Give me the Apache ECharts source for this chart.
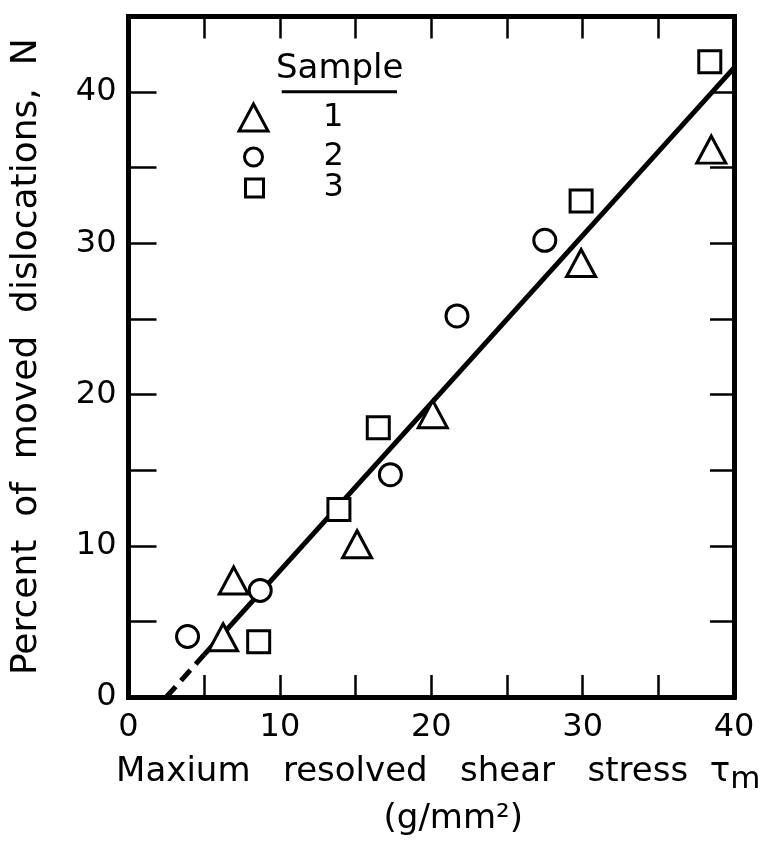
<!DOCTYPE html>
<html><head><meta charset="utf-8">
<script src="https://cdn.jsdelivr.net/npm/echarts@6/dist/echarts.min.js"></script>
<style>html,body{margin:0;padding:0;background:#fff}#c{width:769px;height:842px}</style>
</head><body><div id="c"></div>
<script>
// Sample 1 (triangles)
const sample1X = [6.25, 6.95, 15.1, 20.1, 29.9, 38.5];
const sample1Y = [3.95, 7.7, 10.1, 18.7, 28.7, 36.2];
// Sample 2 (circles)
const sample2X = [3.9, 8.7, 17.3, 21.7, 27.5];
const sample2Y = [4.0, 7.05, 14.7, 25.2, 30.2];
// Sample 3 (squares)
const sample3X = [8.6, 13.9, 16.5, 29.9, 38.4];
const sample3Y = [3.65, 12.4, 17.8, 32.8, 42.0];
// Fitted line: dashed from point 0 to 1, solid from 1 to 2
const fitX = [2.5, 5.0, 40];
const fitY = [0, 2.8, 41.6];
// Axis tick labels
const xLabelValues = [0, 10, 20, 30, 40];
const yLabelValues = [0, 10, 20, 30, 40];
const seriesNames = ['1', '2', '3'];

const FONT = 'DejaVu Sans';
const pts = (xs, ys) => xs.map((x, i) => [x, ys[i]]);
const markerStyle = { color: '#fff', borderColor: '#000', borderWidth: 3, opacity: 1 };
const frameLine = { show: true, onZero: false, lineStyle: { color: '#000', width: 5, cap: 'square' } };

const chart = echarts.init(document.getElementById('c'), null, { renderer: 'canvas' });
chart.setOption({
  animation: false,
  backgroundColor: '#fff',
  grid: { left: 128.5, right: 35, top: 16.5, bottom: 145 },
  xAxis: [{
    type: 'value', min: 0, max: 40, interval: 5, position: 'bottom',
    axisLine: frameLine,
    axisTick: { show: true, inside: true, length: 22, lineStyle: { color: '#000', width: 2.5 } },
    axisLabel: { margin: 15, color: '#000', fontFamily: FONT, fontSize: 32,
      formatter: v => xLabelValues.includes(v) ? String(v) : '' },
    splitLine: { show: false },
    name: '{t|Maxium   resolved   shear   stress  τ}{s|m}\n{u|(g/mm²)}',
    nameLocation: 'middle', nameGap: 52,
    nameTextStyle: {
      color: '#000', fontFamily: FONT, fontSize: 34, padding: [0, 0, 0, 14],
      rich: {
        t: { fontFamily: FONT, fontSize: 34, lineHeight: 47, color: '#000' },
        s: { fontFamily: FONT, fontSize: 31, lineHeight: 31, padding: [14, 0, 0, 0], color: '#000' },
        u: { fontFamily: FONT, fontSize: 34, lineHeight: 47, padding: [0, 0, 0, 30], color: '#000' }
      }
    }
  }, {
    type: 'value', min: 0, max: 40, interval: 5, position: 'top',
    axisLine: frameLine,
    axisTick: { show: true, inside: true, length: 22, lineStyle: { color: '#000', width: 2.5 } },
    axisLabel: { show: false }, splitLine: { show: false }
  }],
  yAxis: [{
    type: 'value', min: 0, max: 45, interval: 5, position: 'left',
    axisLine: frameLine,
    axisTick: { show: true, inside: true, length: 28, lineStyle: { color: '#000', width: 2.5 } },
    axisLabel: { margin: 12, color: '#000', fontFamily: FONT, fontSize: 32,
      formatter: v => yLabelValues.includes(v) ? String(v) : '' },
    splitLine: { show: false },
    name: 'Percent  of  moved  dislocations,  N',
    nameLocation: 'middle', nameGap: 84,
    nameTextStyle: { color: '#000', fontFamily: FONT, fontSize: 36 }
  }, {
    type: 'value', min: 0, max: 45, interval: 5, position: 'right',
    axisLine: frameLine,
    axisTick: { show: true, inside: true, length: 24, lineStyle: { color: '#000', width: 2.5 } },
    axisLabel: { show: false }, splitLine: { show: false }
  }],
  legend: [
    { data: [seriesNames[0]], left: 237.5, top: 101.5, padding: 0, itemWidth: 29, itemHeight: 27,
      selectedMode: false, itemStyle: { borderWidth: 3, opacity: 1 },
      textStyle: { fontFamily: FONT, fontSize: 32, color: '#000', lineHeight: 18, padding: [0, 0, 0, 50] } },
    { data: [seriesNames[1]], left: 243, top: 141, padding: 0, itemWidth: 18, itemHeight: 18,
      selectedMode: false, itemStyle: { borderWidth: 3, opacity: 1 },
      textStyle: { fontFamily: FONT, fontSize: 32, color: '#000', lineHeight: 18, padding: [0, 0, 0, 56] } },
    { data: [seriesNames[2]], left: 244, top: 172, padding: 0, itemWidth: 18, itemHeight: 18,
      selectedMode: false, itemStyle: { borderWidth: 3, opacity: 1 },
      textStyle: { fontFamily: FONT, fontSize: 32, color: '#000', lineHeight: 18, padding: [0, 0, 0, 55] } }
  ],
  graphic: [
    { type: 'text', left: 276, top: 52, z: 10,
      style: { text: 'Sample', font: '34px "DejaVu Sans"', fill: '#000' } },
    { type: 'line', z: 10, shape: { x1: 281.7, y1: 91.7, x2: 397, y2: 91.7 },
      style: { stroke: '#000', lineWidth: 3 } }
  ],
  series: [
    { type: 'line', name: 'fit-dashed', data: pts(fitX.slice(0, 2), fitY.slice(0, 2)), symbol: 'none',
      lineStyle: { color: '#000', width: 5, type: [14, 8] }, z: 1, silent: true },
    { type: 'line', name: 'fit', data: pts(fitX.slice(1), fitY.slice(1)), symbol: 'none',
      lineStyle: { color: '#000', width: 5 }, z: 1, silent: true },
    { type: 'scatter', name: seriesNames[0], data: pts(sample1X, sample1Y), symbol: 'triangle',
      symbolSize: [29, 27], itemStyle: markerStyle, z: 3 },
    { type: 'scatter', name: seriesNames[1], data: pts(sample2X, sample2Y), symbol: 'circle',
      symbolSize: 22, itemStyle: markerStyle, z: 3 },
    { type: 'scatter', name: seriesNames[2], data: pts(sample3X, sample3Y), symbol: 'rect',
      symbolSize: 22, itemStyle: markerStyle, z: 3 }
  ]
});
</script></body></html>
